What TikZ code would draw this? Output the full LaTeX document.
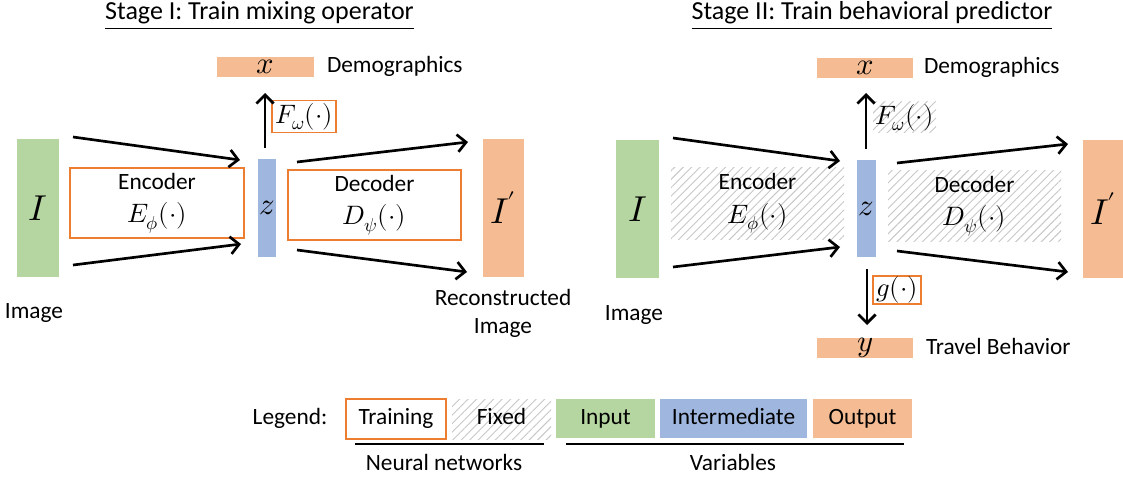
\documentclass[tikz,border=0pt]{standalone}
\usepackage{fontspec}
\usepackage{unicode-math}
\setmainfont{Carlito}
\usetikzlibrary{arrows.meta,patterns.meta}
\definecolor{cgreen}{HTML}{B5D6A0}
\definecolor{cblue}{HTML}{9FB6DF}
\definecolor{corange}{HTML}{F5BC94}
\definecolor{cborder}{HTML}{ED7D31}
\newcommand{\mth}[1]{{\fontsize{20}{24}\selectfont$#1$}}
\newcommand{\varm}[1]{{\fontsize{23}{26}\selectfont$#1$}}
\tikzset{
  sz/.style 2 args={minimum width=#1*0.75pt, minimum height=#2*0.75pt},
  lbl/.style={font=\fontsize{17.5}{21}\selectfont, align=center, inner sep=0pt, outer sep=0pt},
  one/.style={text height=12pt, text depth=3.5pt},
  ttl/.style={font=\fontsize{19.5}{23}\selectfont, inner sep=0pt, anchor=base},
  box/.style={rectangle, lbl},
  train/.style={box, draw=cborder, line width=1.4pt, fill=white},
  fixedbox/.style={box, pattern={Lines[angle=45,distance=4.5pt,line width=0.7pt]}, pattern color=black!22},
  invar/.style={box, fill=cgreen},
  midvar/.style={box, fill=cblue},
  outvar/.style={box, fill=corange},
  arr/.style={line width=2pt, -{Straight Barb[length=6.5pt,width=13pt]}},
  big/.style={font=\fontsize{27}{30}\selectfont}
}
\begin{document}
\begin{tikzpicture}[x=0.75pt,y=-0.75pt]
\useasboundingbox (0,0) rectangle (1123,477);
% ---------- Stage I ----------
\node[ttl] (t1) at (259.5,20) {\underline{Stage I: Train mixing operator}};
\node[invar, sz={42}{138}, big] (I1) at (38,208) {$I$};
\node[train, sz={174}{70}] (E1) at (157,203) {Encoder\\[4pt]\mth{E_{\phi}(\cdot)}};
\node[midvar, sz={18}{98}] (z1) at (267,208) {\varm{z}};
\node[train, sz={173}{70}] (D1) at (374.5,205) {Decoder\\[4pt]\mth{D_{\psi}(\cdot)}};
\node[outvar, sz={41}{138}, big] (O1) at (503.5,208) {$I^{\mkern-1.5mu\prime}$};
\node[outvar, sz={97}{20}] (X1) at (265.5,67) {\varm{x}};
\node[lbl, one, anchor=west] (dem1) at (327,67) {Demographics};
\node[train, sz={64}{32}] (F1) at (304,116.5) {\mth{F_{\omega}(\cdot)}};
\node[lbl, one] (im1) at (34,313) {Image};
\node[lbl] (rec1) at (503,313) {Reconstructed\\Image};
\coordinate (a1s) at (73,137);  \coordinate (a1e) at (240,160);
\coordinate (a2s) at (73,265);  \coordinate (a2e) at (241,244);
\coordinate (a3s) at (297,162); \coordinate (a3e) at (468,142);
\coordinate (a4s) at (297,250); \coordinate (a4e) at (467,272);
\coordinate (u1s) at (265,148); \coordinate (u1e) at (265,93);
\draw[arr] (a1s) -- (a1e);
\draw[arr] (a2s) -- (a2e);
\draw[arr] (a3s) -- (a3e);
\draw[arr] (a4s) -- (a4e);
\draw[arr] (u1s) -- (u1e);
% ---------- Stage II ----------
\node[ttl] (t2) at (872,20) {\underline{Stage II: Train behavioral predictor}};
\node[invar, sz={43}{138}, big] (I2) at (637.5,209) {$I$};
\node[fixedbox, sz={173}{71}] (E2) at (757.5,203.5) {Encoder\\[4pt]\mth{E_{\phi}(\cdot)}};
\node[midvar, sz={19}{97}] (z2) at (866.5,208.5) {\varm{z}};
\node[fixedbox, sz={173}{70}] (D2) at (974.5,206) {Decoder\\[4pt]\mth{D_{\psi}(\cdot)}};
\node[outvar, sz={41}{138}, big] (O2) at (1103.5,209) {$I^{\mkern-1.5mu\prime}$};
\node[outvar, sz={96}{20}] (X2) at (865,68) {\varm{x}};
\node[lbl, one, anchor=west] (dem2) at (924,68) {Demographics};
\node[fixedbox, sz={63}{31}] (F2) at (904.5,117.5) {\mth{F_{\omega}(\cdot)}};
\node[train, sz={48}{28}] (G2) at (897,290) {\mth{g(\cdot)}};
\node[outvar, sz={96}{20}] (Y2) at (865,348) {\varm{y}};
\node[lbl, one, anchor=west] (tb2) at (926,349) {Travel Behavior};
\node[lbl, one] (im2) at (634,315) {Image};
\coordinate (b1s) at (673,138);  \coordinate (b1e) at (840,161);
\coordinate (b2s) at (673,267);  \coordinate (b2e) at (840,247);
\coordinate (b3s) at (897,163);  \coordinate (b3e) at (1068,144);
\coordinate (b4s) at (897,251);  \coordinate (b4e) at (1068,272);
\coordinate (u2s) at (866,149);  \coordinate (u2e) at (866,93);
\coordinate (d2s) at (867,269);  \coordinate (d2e) at (867,325);
\draw[arr] (b1s) -- (b1e);
\draw[arr] (b2s) -- (b2e);
\draw[arr] (b3s) -- (b3e);
\draw[arr] (b4s) -- (b4e);
\draw[arr] (u2s) -- (u2e);
\draw[arr] (d2s) -- (d2e);
% ---------- Legend ----------
\node[lbl, one] (leg) at (290,419) {Legend:};
\node[train, one, sz={100}{40}] (lt) at (396,419) {Training};
\node[fixedbox, one, sz={99}{40}] (lf) at (501.5,419) {Fixed};
\node[invar, one, sz={99}{39}] (li) at (605.5,418.5) {Input};
\node[midvar, one, sz={147}{39}] (lm) at (733.5,418.5) {Intermediate};
\node[outvar, one, sz={99}{39}] (lo) at (862.5,418.5) {Output};
\coordinate (n1) at (355,444); \coordinate (n2) at (544,444);
\coordinate (v1) at (566,444); \coordinate (v2) at (904,444);
\draw[line width=1pt] (n1) -- (n2);
\draw[line width=1pt] (v1) -- (v2);
\node[lbl, one] (nn) at (444,465) {Neural networks};
\node[lbl, one] (vv) at (733,465) {Variables};
\end{tikzpicture}
\end{document}
